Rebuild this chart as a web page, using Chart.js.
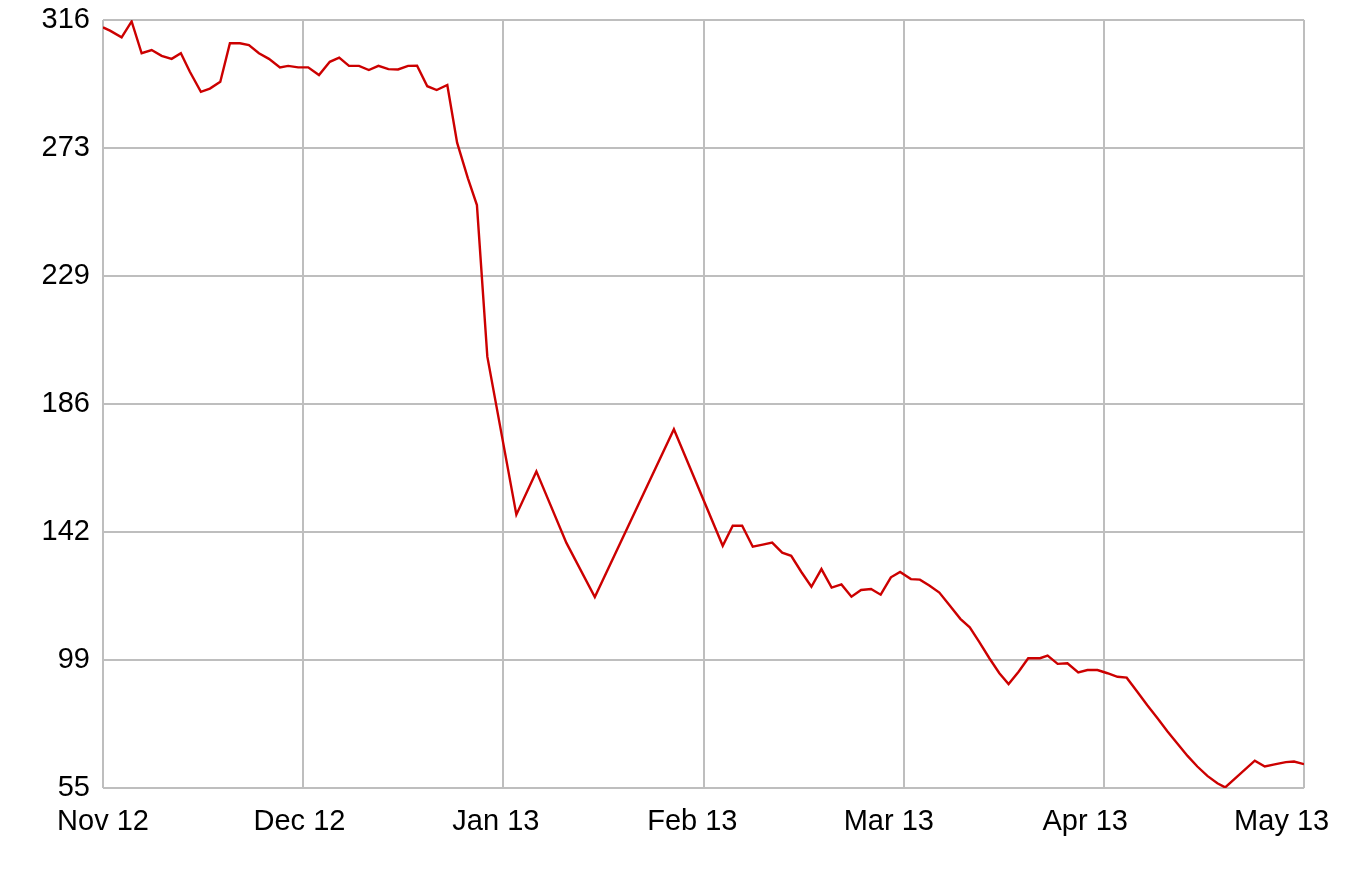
<!DOCTYPE html>
<html>
<head>
<meta charset="utf-8">
<title>Price chart</title>
<script src="https://cdn.jsdelivr.net/npm/chart.js@4"></script>
<style>
  html, body { margin: 0; padding: 0; background: #fff; }
  #wrap { position: relative; width: 1347px; height: 889px; }
</style>
</head>
<body>
<div id="wrap"><canvas id="priceChart"></canvas></div>
<script>
// ====== DATA ======
// x = months since Nov 12 (0..6), y = price
const monthLabels = ["Nov 12", "Dec 12", "Jan 13", "Feb 13", "Mar 13", "Apr 13", "May 13"];

const xMonths = [
  0.000, 0.035, 0.093, 0.143, 0.193, 0.243, 0.293, 0.343, 0.389, 0.434,
  0.489, 0.534, 0.586, 0.634, 0.684, 0.729, 0.779, 0.829, 0.884, 0.925,
  0.975, 1.025, 1.079, 1.133, 1.180, 1.229, 1.279, 1.328, 1.376, 1.426,
  1.474, 1.524, 1.569, 1.620, 1.667, 1.720, 1.769, 1.823, 1.868, 1.920,
  2.065, 2.165, 2.315, 2.457, 2.852, 3.096, 3.146, 3.193, 3.246, 3.296,
  3.343, 3.393, 3.438, 3.488, 3.539, 3.589, 3.640, 3.689, 3.739, 3.787,
  3.837, 3.885, 3.936, 3.982, 4.036, 4.081, 4.128, 4.178, 4.228, 4.283,
  4.330, 4.378, 4.428, 4.478, 4.524, 4.574, 4.622, 4.681, 4.719, 4.769,
  4.818, 4.872, 4.918, 4.968, 5.018, 5.068, 5.114, 5.166, 5.216, 5.268,
  5.318, 5.368, 5.418, 5.467, 5.517, 5.567, 5.606, 5.754, 5.804, 5.859,
  5.909, 5.950, 6.000
];

const prices = [
  313.5, 312.4, 310.1, 315.5, 304.7, 305.8, 303.8, 302.8, 304.7, 298.4,
  291.6, 292.7, 295.0, 308.1, 308.1, 307.5, 304.7, 302.8, 299.9, 300.4,
  299.9, 299.9, 297.3, 301.8, 303.2, 300.4, 300.4, 299.0, 300.4, 299.3,
  299.2, 300.4, 300.5, 293.5, 292.2, 293.9, 274.3, 262.2, 253.1, 201.6,
  147.9, 162.6, 138.3, 119.9, 176.9, 137.3, 144.1, 144.1, 137.0, 137.7,
  138.4, 135.0, 133.9, 128.5, 123.4, 129.4, 123.1, 124.2, 120.0, 122.3,
  122.6, 120.7, 126.6, 128.4, 126.0, 125.8, 123.8, 121.4, 117.2, 112.5,
  109.6, 104.6, 99.1, 94.0, 90.3, 94.5, 99.1, 99.1, 100.0, 97.2,
  97.4, 94.3, 95.1, 95.1, 94.0, 92.8, 92.5, 87.8, 83.2, 78.7,
  74.2, 70.0, 65.9, 62.3, 59.1, 56.6, 55.2, 64.3, 62.3, 63.1,
  63.8, 64.0, 63.1
];

const yMin = 55;
const yMax = 316;
const yTickCount = 6; // intervals

// ====== STYLE ======
const FONT = { family: "'Liberation Sans', Arial, sans-serif", size: 29 };
const GRID = "#bebebe";

const points = xMonths.map((x, i) => ({ x, y: prices[i] }));

new Chart(document.getElementById("priceChart"), {
  type: "line",
  data: {
    datasets: [{
      data: points,
      borderColor: "#cc0000",
      borderWidth: 2.4,
      pointRadius: 0,
      tension: 0,
      fill: false,
      xAxisID: "x",
      yAxisID: "y"
    }]
  },
  options: {
    responsive: true,
    maintainAspectRatio: false,
    animation: false,
    layout: { padding: { top: 20, right: 42, left: 0, bottom: 0 } },
    plugins: { legend: { display: false }, tooltip: { enabled: false } },
    scales: {
      // grid-only axis, one line per month
      x: {
        type: "linear",
        position: "bottom",
        min: 0,
        max: monthLabels.length - 1,
        afterBuildTicks: s => { s.ticks = monthLabels.map((_, i) => ({ value: i })); },
        grid: { color: GRID, lineWidth: 2, drawTicks: false },
        border: { display: false },
        ticks: { display: false },
        afterFit: s => { s.height = 0; }
      },
      // label axis: labels sit a little left of the grid lines in the original
      x2: {
        type: "linear",
        position: "bottom",
        min: 0,
        max: 6.114,
        afterBuildTicks: s => { s.ticks = monthLabels.map((_, i) => ({ value: i })); },
        grid: { display: false, drawTicks: false },
        border: { display: false },
        ticks: {
          font: FONT,
          color: "#000",
          padding: 17,
          maxRotation: 0,
          autoSkip: false,
          callback: v => monthLabels[v] ?? ""
        },
        afterFit: s => { s.height = 101; }
      },
      y: {
        min: yMin,
        max: yMax,
        afterBuildTicks: s => {
          const step = (yMax - yMin) / yTickCount;
          s.ticks = [];
          for (let i = 0; i <= yTickCount; i++) s.ticks.push({ value: yMin + step * i });
        },
        grid: { color: GRID, lineWidth: 2, drawTicks: false },
        border: { display: false },
        ticks: {
          font: FONT,
          color: "#000",
          padding: 13,
          callback: v => Math.round(v)
        },
        afterFit: s => {
          s.width = 103;
          s.paddingTop = 0;
          s.paddingBottom = 0;
        }
      }
    }
  }
});
</script>
</body>
</html>
